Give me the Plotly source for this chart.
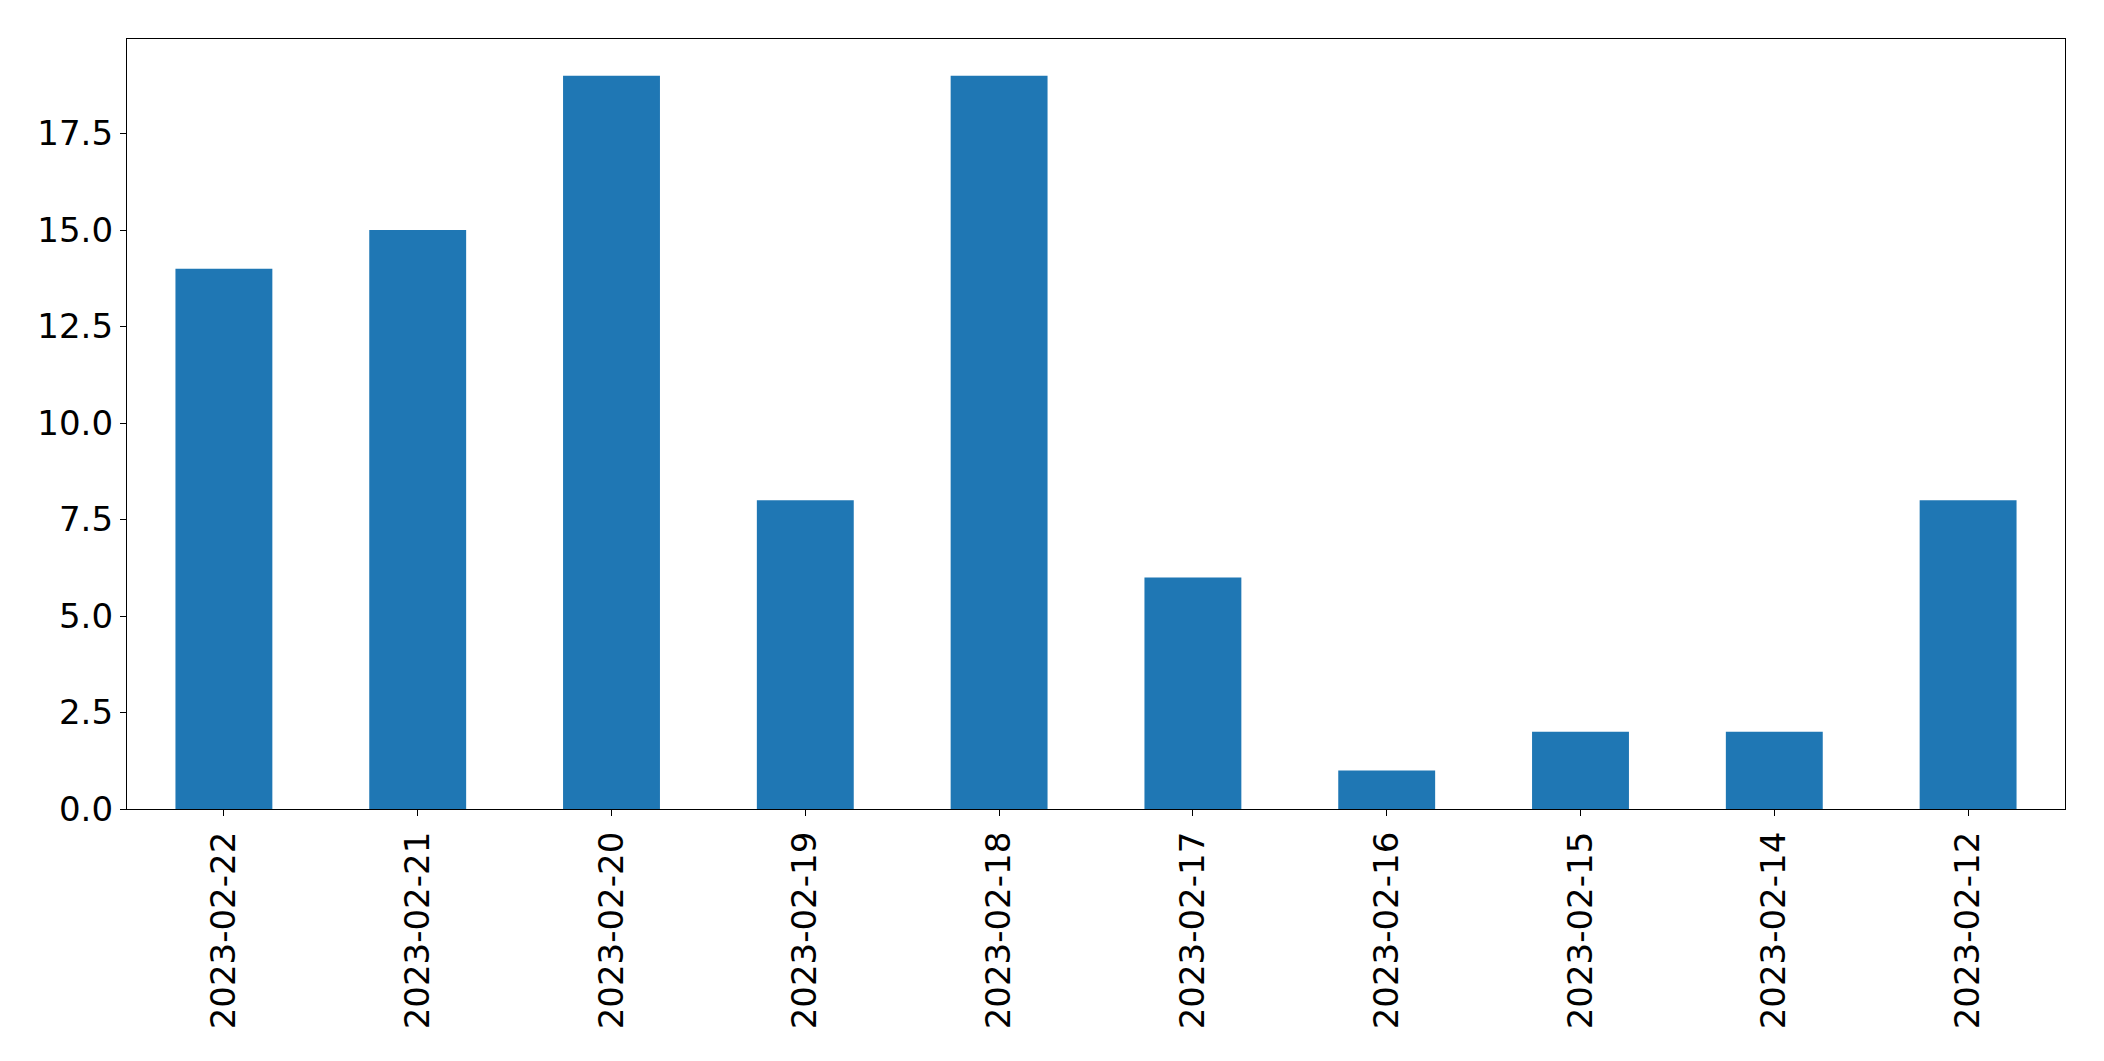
import plotly.graph_objects as go

dates = ["2023-02-22", "2023-02-21", "2023-02-20", "2023-02-19", "2023-02-18",
         "2023-02-17", "2023-02-16", "2023-02-15", "2023-02-14", "2023-02-12"]
counts = [14, 15, 19, 8, 19, 6, 1, 2, 2, 8]

positions = list(range(len(dates)))

fig = go.Figure(go.Bar(x=positions, y=counts, width=0.5, marker=dict(color="#1f77b4", line=dict(width=0))))

axis_common = dict(showline=True, linecolor="black", linewidth=1.3, mirror=True,
                   ticks="outside", ticklen=6, tickwidth=1.3, tickcolor="black",
                   showgrid=False, zeroline=False,
                   tickfont=dict(family="DejaVu Sans", size=34, color="black"))

fig.update_layout(
    width=2104, height=1061,
    margin=dict(l=127, r=39, t=39, b=252),
    plot_bgcolor="white", paper_bgcolor="white",
    showlegend=False,
    xaxis=dict(range=[-0.5, len(dates) - 0.5], tickmode="array", tickvals=positions,
               ticktext=dates, tickangle=-90, ticklabelstandoff=2, **axis_common),
    yaxis=dict(range=[0, 19.95], tickmode="array",
               tickvals=[0, 2.5, 5, 7.5, 10, 12.5, 15, 17.5],
               ticktext=["0.0", "2.5", "5.0", "7.5", "10.0", "12.5", "15.0", "17.5"],
               **axis_common),
)

fig.write_html("out.html", config={"displayModeBar": False},
               post_script="document.body.style.margin='0';document.body.style.overflow='hidden';")
